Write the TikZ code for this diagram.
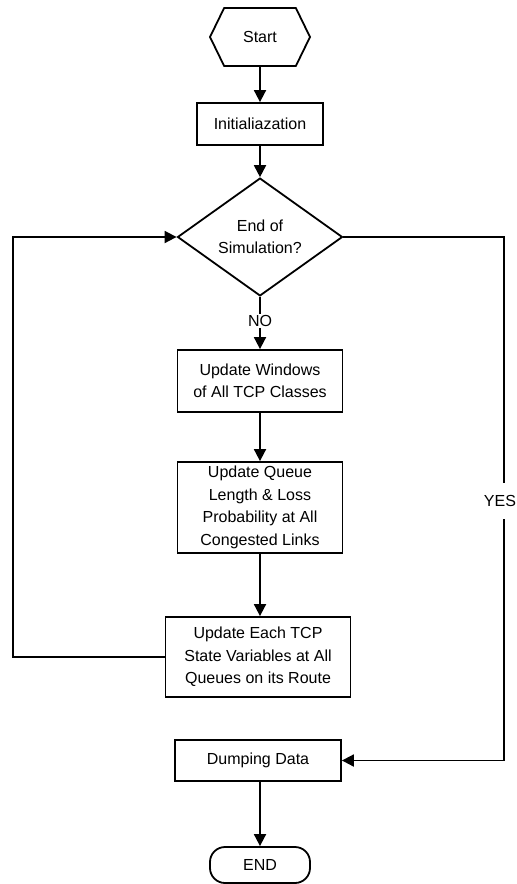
\documentclass[tikz,border=0pt]{standalone}
\usepackage{fontspec}
\setmainfont{Liberation Sans}
\usetikzlibrary{arrows.meta,shapes.geometric,shapes.symbols}
\begin{document}
\begin{tikzpicture}[x=1pt,y=-1pt,
  every node/.style={font=\fontsize{16}{22.5}\selectfont},
  line/.style={line width=1.8pt},
  arr/.style={line width=1.8pt, -{Triangle[length=12pt,width=12pt]}},
  box/.style={draw, line width=1.8pt, rectangle, inner sep=0pt, align=center},
  lbl/.style={inner sep=1pt}
]
\useasboundingbox (0,0) rectangle (517,884);
\node[draw, line width=1.8pt, shape=signal, signal to=west and east, signal pointer angle=128,
      minimum width=100pt, minimum height=58pt, inner sep=0pt] (start) at (260,37) {Start};
\node[box, minimum width=126pt, minimum height=42pt] (init) at (260,124) {Initialiazation};
\node[draw, line width=1.8pt, diamond, minimum width=165pt, minimum height=100pt, inner sep=0pt, align=center] (dec) at (260,237) {End of\\Simulation?};
\node[lbl] (no) at (260,321) {NO};
\node[box, minimum width=165pt, minimum height=62pt] (win) at (260,381) {Update Windows\\of All TCP Classes};
\node[box, minimum width=165pt, minimum height=91pt] (queue) at (260,507.5) {Update Queue\\Length \& Loss\\Probability at All\\Congested Links};
\node[box, minimum width=185pt, minimum height=80pt] (each) at (258,657) {Update Each TCP\\State Variables at All\\Queues on its Route};
\node[lbl] (yes) at (500,501) {YES};
\node[box, minimum width=166pt, minimum height=41pt] (dump) at (258,760.5) {Dumping Data};
\node[draw, line width=1.8pt, rectangle, rounded corners=15pt, minimum width=100pt, minimum height=36pt, inner sep=0pt] (endn) at (260,865) {END};
\coordinate (lc) at (13,657);
\coordinate (ytop) at (504,483);
\coordinate (ybot) at (504,519);

\draw[arr] (start) -- (init);
\draw[arr] (init) -- (dec);
\draw[line] (dec.south) -- (no.north);
\draw[arr] (no.south) -- (win.north);
\draw[arr] (win) -- (queue);
\draw[arr] (queue.south) -- (queue.south |- each.north);
\draw[arr] (each.west) -- (lc) |- (dec.west);
\draw[line] (dec.east) -| (ytop);
\draw[arr] (ybot) |- (dump.east);
\draw[arr] (dump.south -| endn) -- (endn);
\end{tikzpicture}
\end{document}
